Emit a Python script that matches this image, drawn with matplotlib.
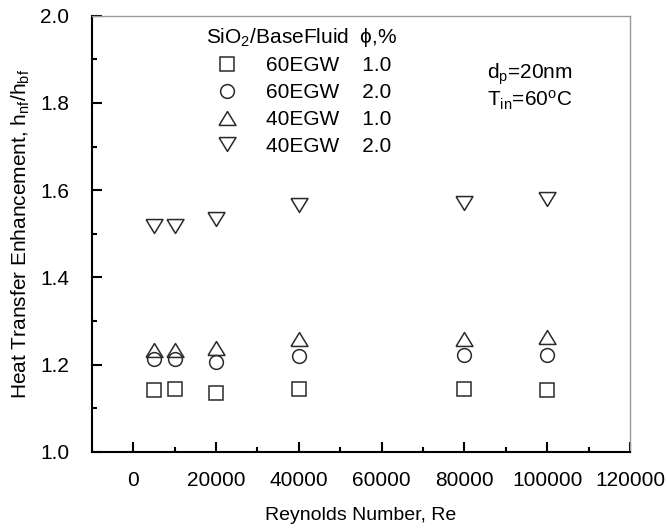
"""Heat transfer enhancement of SiO2 nanofluids vs Reynolds number."""

import matplotlib

matplotlib.use("Agg")
import matplotlib.pyplot as plt
from matplotlib.ticker import MultipleLocator

plt.rcParams["font.family"] = ["Liberation Sans", "DejaVu Sans"]
plt.rcParams["mathtext.fontset"] = "custom"
plt.rcParams["mathtext.rm"] = "Liberation Sans"
plt.rcParams["mathtext.it"] = "Liberation Sans:italic"

reynolds = [5000, 10000, 20000, 40000, 80000, 100000]

sq_60egw_1 = [1.143, 1.145, 1.135, 1.145, 1.145, 1.143]
ci_60egw_2 = [1.212, 1.212, 1.207, 1.220, 1.222, 1.222]
up_40egw_1 = [1.233, 1.233, 1.238, 1.258, 1.258, 1.263]
dn_40egw_2 = [1.519, 1.519, 1.533, 1.565, 1.571, 1.579]

base_fluids = ["60EGW", "60EGW", "40EGW", "40EGW"]
phi_percent = [1.0, 2.0, 1.0, 2.0]

UP_TRI = [(-1.0, -0.82), (1.0, -0.82), (0.0, 0.82), (-1.0, -0.82)]
DOWN_TRI = [(-1.0, 0.82), (1.0, 0.82), (0.0, -0.82), (-1.0, 0.82)]

series = [
    (sq_60egw_1, "s", 9.4),
    (ci_60egw_2, "o", 9.9),
    (up_40egw_1, UP_TRI, 12.2),
    (dn_40egw_2, DOWN_TRI, 12.2),
]

fig = plt.figure(figsize=(6.67, 5.29), dpi=100)
ax = fig.add_axes([0.1375, 0.1456, 0.807, 0.8247])

handles = []
for values, marker, size in series:
    (line,) = ax.plot(
        reynolds,
        values,
        linestyle="none",
        marker=marker,
        markersize=size,
        markerfacecolor="none",
        markeredgecolor="#2a2a2a",
        markeredgewidth=1.1,
    )
    handles.append(line)

ax.set_xlim(-10000, 120000)
ax.set_ylim(1.0, 2.0)
ax.xaxis.set_major_locator(MultipleLocator(20000))
ax.xaxis.set_minor_locator(MultipleLocator(10000))
ax.yaxis.set_major_locator(MultipleLocator(0.2))
ax.yaxis.set_minor_locator(MultipleLocator(0.1))
ax.yaxis.set_major_formatter(lambda v, pos: f"{v:.1f}")

ax.tick_params(which="both", direction="in", top=False, right=False, width=1.5)
ax.tick_params(which="major", length=7, labelsize=15)
ax.tick_params(axis="y", which="major", pad=16)
ax.tick_params(axis="x", which="major", pad=14)
ax.tick_params(which="minor", length=3.6)

for side in ["left", "bottom"]:
    ax.spines[side].set_linewidth(1.5)
    ax.spines[side].set_color("black")
for side in ["top", "right"]:
    ax.spines[side].set_linewidth(1.0)
    ax.spines[side].set_color("#9a9a9a")

ax.set_xlabel("Reynolds Number, Re", fontsize=14, labelpad=12)
ax.set_ylabel(r"Heat Transfer Enhancement, h$_{\rm nf}$/h$_{\rm bf}$", fontsize=15, labelpad=6)

labels = [f"{fluid}    {phi:.1f}" for fluid, phi in zip(base_fluids, phi_percent)]
legend = ax.legend(
    handles,
    labels,
    title="SiO$_2$/BaseFluid  \u03d5,%",
    title_fontsize=15,
    fontsize=15,
    frameon=False,
    loc="upper left",
    bbox_to_anchor=(0.2123, 0.977),
    borderpad=0,
    borderaxespad=0,
    handlelength=2.0,
    handletextpad=0.9,
    labelspacing=0.37,
    alignment="left",
)

ax.text(0.734, 0.866, "d$_{\\rm p}$=20nm", transform=ax.transAxes, fontsize=15, va="center")
ax.text(0.734, 0.806, "T$_{\\rm in}$=60$^{\\rm o}$C", transform=ax.transAxes, fontsize=15, va="center")

fig.savefig("out.png", dpi=100)
plt.close(fig)
